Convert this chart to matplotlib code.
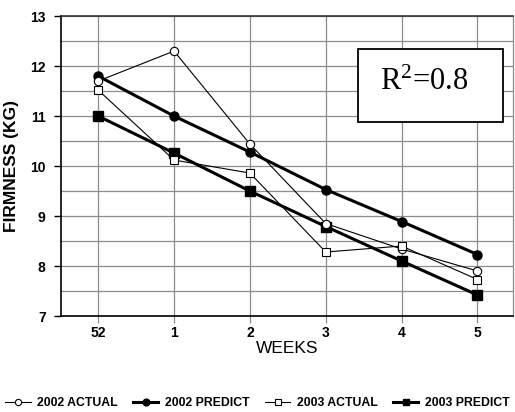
import matplotlib
matplotlib.use('Agg')
from matplotlib import pyplot as plt
from matplotlib.patches import Rectangle
from matplotlib.ticker import MultipleLocator

plt.rcParams['font.family'] = ['Liberation Sans', 'DejaVu Sans']

weeks = ['52', '1', '2', '3', '4', '5']
actual_2002 = [11.7, 12.3, 10.44, 8.85, 8.34, 7.9]
predict_2002 = [11.8, 11.0, 10.28, 9.53, 8.89, 8.23]
actual_2003 = [11.52, 10.12, 9.86, 8.28, 8.4, 7.73]
predict_2003 = [11.0, 10.26, 9.5, 8.79, 8.1, 7.42]

fig = plt.figure(figsize=(5.15, 4.12), dpi=100)
ax = fig.add_axes([0.1184, 0.233, 0.878, 0.728])
x = range(len(weeks))

ax.plot(x, actual_2002, color='black', lw=0.8, marker='o', ms=6, mfc='white', mec='black', mew=0.8,
        label='2002 ACTUAL', zorder=4)
ax.plot(x, predict_2002, color='black', lw=2.2, marker='o', ms=6.5, mfc='black', mec='black',
        label='2002 PREDICT', zorder=3)
ax.plot(x, actual_2003, color='black', lw=0.8, marker='s', ms=6, mfc='white', mec='black', mew=0.8,
        label='2003 ACTUAL', zorder=4)
ax.plot(x, predict_2003, color='black', lw=2.2, marker='s', ms=6.5, mfc='black', mec='black',
        label='2003 PREDICT', zorder=3)

ax.set_xlim(-0.49, 5.47)
ax.set_ylim(7, 13)
ax.set_xticks(list(x))
ax.set_xticklabels(weeks, fontsize=10, fontweight='bold')
ax.yaxis.set_major_locator(MultipleLocator(1))
ax.yaxis.set_minor_locator(MultipleLocator(0.5))
for t in ax.get_yticklabels():
    t.set_fontsize(10)
    t.set_fontweight('bold')
ax.grid(True, which='both', color='#8c8c8c', lw=0.9, zorder=0)
ax.set_axisbelow(True)
ax.tick_params(axis='x', length=5, color='#8c8c8c', width=0.9, pad=2)
ax.tick_params(axis='y', which='major', length=5, color='black', width=1, pad=6)
ax.tick_params(axis='y', which='minor', length=0)
for s in ['left', 'top', 'bottom']:
    ax.spines[s].set_linewidth(1.2)
ax.spines['top'].set_color('#333333')
ax.spines['right'].set_color('#8c8c8c')
ax.spines['right'].set_linewidth(0.9)

ax.set_xlabel('WEEKS', fontsize=12.5, labelpad=1)
ax.set_ylabel('FIRMNESS (KG)', fontsize=12.5, fontweight='bold', labelpad=8)

ax.add_patch(Rectangle((0.657, 0.647), 0.321, 0.243, transform=ax.transAxes, fc='white',
                       ec='black', lw=1.3, zorder=6))
ax.text(0.803, 0.778, '$\\mathregular{R^2}$=0.8', transform=ax.transAxes, fontsize=22,
        family='Liberation Serif', ha='center', va='center', zorder=7)

leg = fig.legend(loc='center', bbox_to_anchor=(0.5, 0.022), ncol=4, frameon=False,
                 prop={'size': 8.8, 'weight': 'bold'}, handlelength=2.1, columnspacing=1.2,
                 handletextpad=0.57, markerscale=0.75)

fig.savefig('out.png', dpi=100)
